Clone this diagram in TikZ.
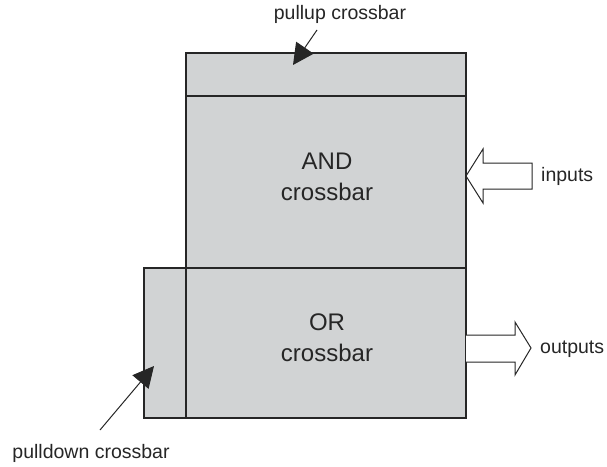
\documentclass[tikz,border=0pt]{standalone}
\usepackage{fontspec}
\setmainfont{Liberation Sans}
\usetikzlibrary{arrows.meta}
\definecolor{blockgray}{HTML}{D1D3D4}
\tikzset{
  block/.style={draw=black!85, line width=1.1pt, fill=blockgray},
  lbl/.style={font=\fontsize{19.5}{23}\selectfont, text=black!85, inner sep=0pt},
  big/.style={font=\fontsize{24}{31}\selectfont, text=black!85, align=center},
  pointer/.style={draw=black!85, line width=1pt, -{Triangle[length=21pt,width=21pt]}},
  blockarrow/.style={draw=black!85, line width=1pt, fill=white, line join=miter}
}
\begin{document}
\begin{tikzpicture}[x=1pt,y=-1pt]
\useasboundingbox (0,0) rectangle (607,466);
% blocks
\draw[block] (186,53) rectangle (466,96);
\draw[block] (186,96) rectangle (466,268);
\draw[block] (186,268) rectangle (466,418);
\draw[block] (144,268) rectangle (186,418);
% texts
\node[big] (and) at (327,177) {AND\\crossbar};
\node[big] (or) at (327,338) {OR\\crossbar};
\node[lbl] (pul) at (340,14) {pullup crossbar};
\node[lbl] (pdl) at (91,453) {pulldown crossbar};
\node[lbl, anchor=west] (inp) at (541,176) {inputs};
\node[lbl, anchor=west] (outp) at (540,349) {outputs};
% pointers
\coordinate (pustart) at (317,30);
\coordinate (putip) at (293,65);
\draw[pointer] (pustart) -- (putip);
\coordinate (pdstart) at (100,430);
\coordinate (pdtip) at (154,366);
\draw[pointer] (pdstart) -- (pdtip);
% inputs block arrow
\draw[blockarrow] (466,176) -- (483,149) -- (483,163) -- (532,163) -- (532,189) -- (483,189) -- (483,203) -- cycle;
% outputs block arrow
\draw[blockarrow] (466,335) -- (515,335) -- (515,322) -- (531,348) -- (515,375) -- (515,362) -- (466,362);
\end{tikzpicture}
\end{document}
